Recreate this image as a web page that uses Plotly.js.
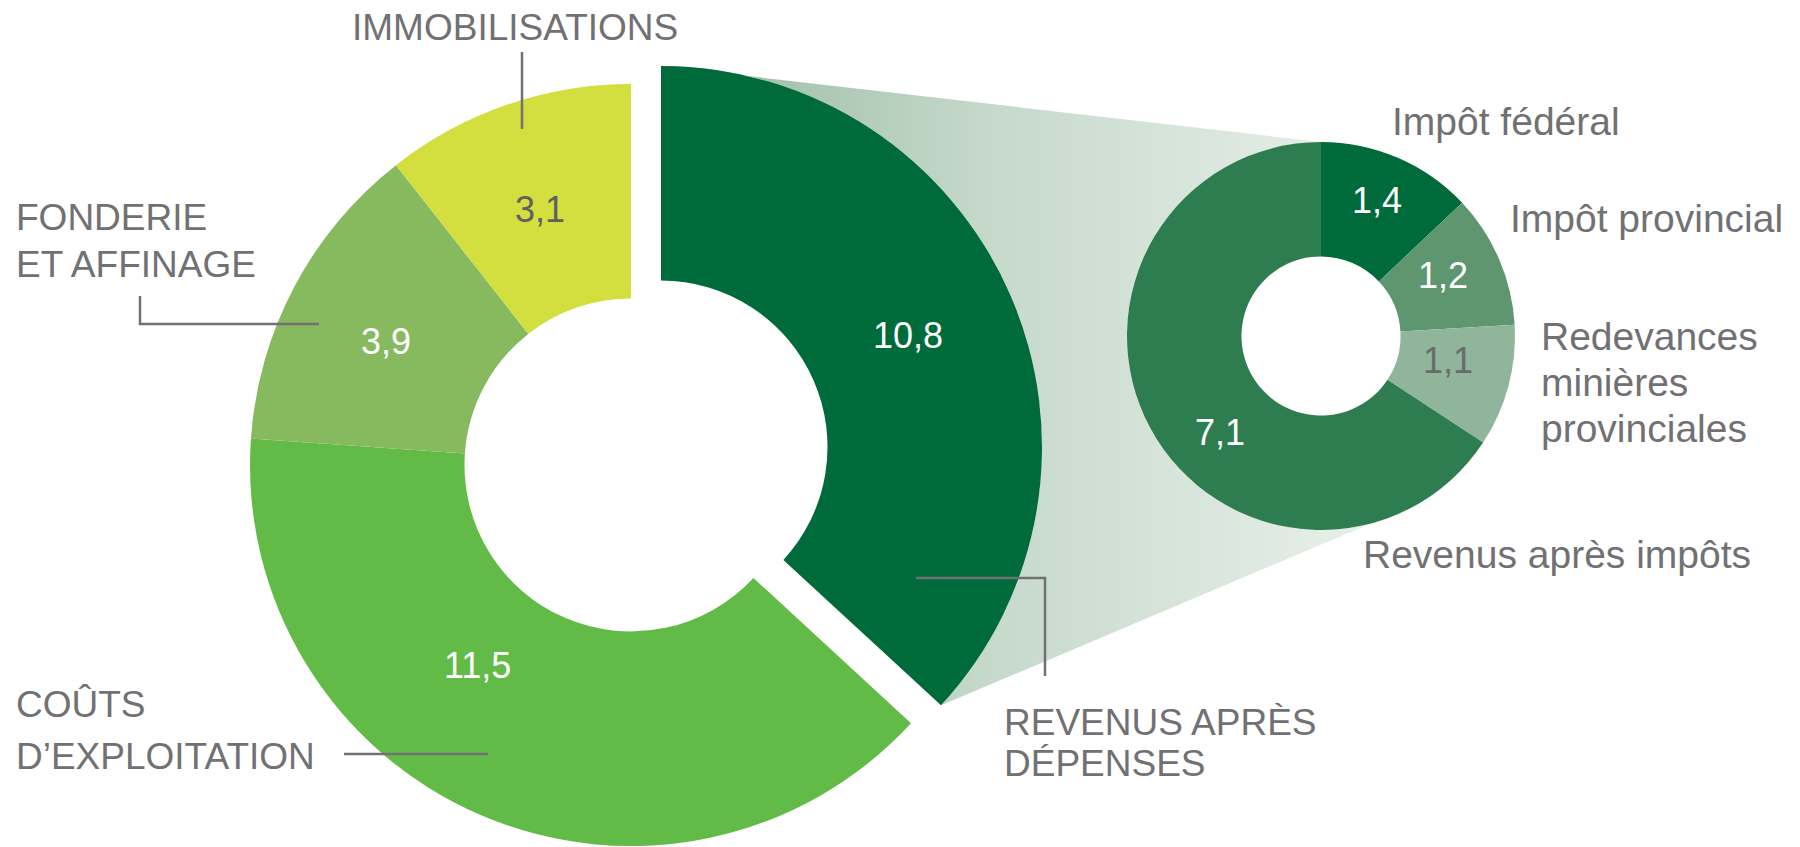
<!DOCTYPE html>
<html>
<head>
<meta charset="utf-8">
<script src="https://cdn.plot.ly/plotly-3.0.1.min.js"></script>
<style>
  html, body { margin: 0; padding: 0; background: #ffffff; overflow: hidden; }
  #chart { width: 1800px; height: 847px; }
</style>
</head>
<body>
<div id="chart"></div>
<script>
// ---------------- DATA ----------------
const mainCategories = ['REVENUS APRÈS<br>DÉPENSES', 'COÛTS<br>D’EXPLOITATION', 'FONDERIE<br>ET AFFINAGE', 'IMMOBILISATIONS'];
const mainValues = [10.8, 11.5, 3.9, 3.1];

const detailCategories = ['Impôt fédéral', 'Impôt provincial', 'Redevances<br>minières<br>provinciales', 'Revenus après impôts'];
const detailValues = [1.4, 1.2, 1.1, 7.1];

// ---------------- STYLE / LAYOUT ----------------
const W = 1800, H = 847;
const mainColors = ['#006b3a', '#62bb46', '#87b95f', '#d3de3f'];
const mainTextColors = ['#ffffff', '#ffffff', '#ffffff', '#606060'];
const detailColors = ['#006b3a', '#5e9670', '#8fb69a', '#2e7d50'];
const detailTextColors = ['#ffffff', '#ffffff', '#6b6b6b', '#ffffff'];
const TRANSPARENT = 'rgba(0,0,0,0)';
const FONT = 'Liberation Sans, Arial, Helvetica, sans-serif';
const GREY = '#717173';

const mainC = {x: 631, y: 465}, mainR = 381, mainHole = 0.437;
const pull = {dx: 30, dy: -18};
const detC = {x: 1321, y: 336}, detR = 194, detHole = 0.41;

// category label placement: left x, first-line middle y, font size, line spacing
const mainLabelPos = [
  {x: 1002, y: 722, size: 37, lh: 41},
  {x: 14, y: 704, size: 37, lh: 52},
  {x: 14, y: 217, size: 37, lh: 47},
  {x: 350, y: 27, size: 37, lh: 46}
];
const detailLabelPos = [
  {x: 1390, y: 121, size: 39, lh: 46},
  {x: 1508, y: 218, size: 39, lh: 46},
  {x: 1539, y: 336, size: 39, lh: 46},
  {x: 1361, y: 554, size: 39, lh: 46}
];
// value label centres
const mainValuePos = [{x: 908, y: 335}, {x: 477, y: 665}, {x: 386, y: 341}, {x: 540, y: 209}];
const detailValuePos = [{x: 1377, y: 200}, {x: 1443, y: 275}, {x: 1448, y: 360}, {x: 1220, y: 432}];

// leader lines (pixel space)
const leaders = [
  'M916,578 L1045,578 L1045,676',
  'M344,754 L488,754',
  'M140,296 L140,324 L319,324',
  'M522,52 L522,129'
];

// ---------------- HELPERS ----------------
function domainFor(cx, cy, r) {
  return {x: [Math.max(0, (cx - r) / W), Math.min(1, (cx + r) / W)],
          y: [Math.max(0, (H - cy - r) / H), Math.min(1, (H - cy + r) / H)]};
}
function polar(c, r, deg) {
  const a = deg * Math.PI / 180;
  return [c.x + r * Math.sin(a), c.y - r * Math.cos(a)];
}
const fmt = v => v.toFixed(1).replace('.', ',');

const total = mainValues.reduce((a, b) => a + b, 0);
const pulledEnd = mainValues[0] / total * 360;
const pc = {x: mainC.x + pull.dx, y: mainC.y + pull.dy};

// connector wedge from pulled slice to detail donut
const wx = [], wy = [];
function push(p) { wx.push(p[0]); wy.push(p[1]); }
push(polar(pc, mainR, 0));
for (let a = 360; a >= 165; a -= 3) push(polar(detC, detR, a));
push(polar(detC, detR, 165));
for (let a = pulledEnd; a >= 0; a -= 3) push(polar(pc, mainR, a));
push(polar(pc, mainR, 0));

// ---------------- TRACES ----------------
const traces = [];
traces.push({
  type: 'scatter', x: wx, y: wy, mode: 'lines', fill: 'toself',
  line: {width: 0, color: TRANSPARENT},
  fillgradient: {type: 'horizontal', start: pc.x, stop: detC.x,
    colorscale: [[0, 'rgb(150,184,160)'], [0.5, 'rgb(198,217,203)'], [1, 'rgb(228,237,230)']]},
  hoverinfo: 'skip', showlegend: false
});
// main donut, non-pulled slices
traces.push({
  type: 'pie', values: mainValues, labels: mainCategories, sort: false, direction: 'clockwise', rotation: 0,
  hole: mainHole, domain: domainFor(mainC.x, mainC.y, mainR),
  marker: {colors: mainColors.map((c, i) => i === 0 ? TRANSPARENT : c), line: {width: 0}},
  textinfo: 'none', hoverinfo: 'skip', showlegend: false
});
// main donut, pulled-out slice
traces.push({
  type: 'pie', values: mainValues, labels: mainCategories, sort: false, direction: 'clockwise', rotation: 0,
  hole: mainHole, domain: domainFor(pc.x, pc.y, mainR),
  marker: {colors: mainColors.map((c, i) => i === 0 ? c : TRANSPARENT), line: {width: 0}},
  textinfo: 'none', hoverinfo: 'skip', showlegend: false
});
// detail donut
traces.push({
  type: 'pie', values: detailValues, labels: detailCategories, sort: false, direction: 'clockwise', rotation: 0,
  hole: detHole, domain: domainFor(detC.x, detC.y, detR),
  marker: {colors: detailColors, line: {width: 0}},
  textinfo: 'none', hoverinfo: 'skip', showlegend: false
});

// ---------------- ANNOTATIONS ----------------
const annotations = [];
function addLabel(text, pos) {
  text.split('<br>').forEach((line, i) => {
    annotations.push({xref: 'x', yref: 'y', x: pos.x, y: pos.y + i * pos.lh, text: line,
      xanchor: 'left', yanchor: 'middle', showarrow: false,
      font: {family: FONT, size: pos.size, color: GREY}});
  });
}
mainCategories.forEach((t, i) => addLabel(t, mainLabelPos[i]));
detailCategories.forEach((t, i) => addLabel(t, detailLabelPos[i]));
mainValues.forEach((v, i) => annotations.push({xref: 'x', yref: 'y', x: mainValuePos[i].x, y: mainValuePos[i].y,
  text: fmt(v), showarrow: false, xanchor: 'center', yanchor: 'middle',
  font: {family: FONT, size: 36, color: mainTextColors[i]}}));
detailValues.forEach((v, i) => annotations.push({xref: 'x', yref: 'y', x: detailValuePos[i].x, y: detailValuePos[i].y,
  text: fmt(v), showarrow: false, xanchor: 'center', yanchor: 'middle',
  font: {family: FONT, size: 36, color: detailTextColors[i]}}));

const shapes = leaders.map(p => ({type: 'path', xref: 'x', yref: 'y', path: p, layer: 'above',
  line: {color: GREY, width: 2.5}}));

const layout = {
  width: W, height: H, margin: {l: 0, r: 0, t: 0, b: 0, pad: 0},
  paper_bgcolor: '#ffffff', plot_bgcolor: 'rgba(0,0,0,0)',
  xaxis: {range: [0, W], visible: false, fixedrange: true, domain: [0, 1]},
  yaxis: {range: [H, 0], visible: false, fixedrange: true, domain: [0, 1]},
  showlegend: false, annotations: annotations, shapes: shapes
};

Plotly.newPlot('chart', traces, layout, {displayModeBar: false, staticPlot: true});
</script>
</body>
</html>
